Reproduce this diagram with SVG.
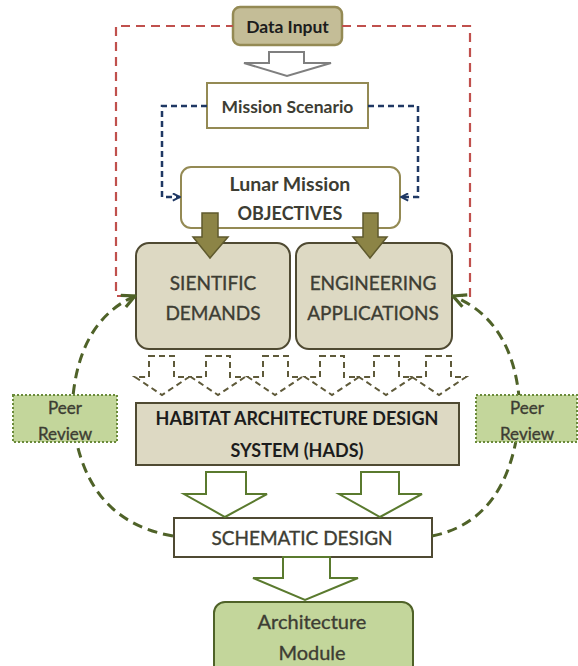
<svg xmlns="http://www.w3.org/2000/svg" width="578" height="666" viewBox="0 0 578 666">
<defs>
<style>
.t{font-family:Lato,"Open Sans","Liberation Sans",sans-serif;text-anchor:middle;dominant-baseline:central}
.dark{fill:#3d3d33;stroke:#3d3d33;stroke-width:0.35}
.blk{fill:#1c1c1c}
.tan{fill:#ddd9c3;stroke:#4f4a32;stroke-width:2}
.red{fill:none;stroke:#c0504d;stroke-width:2.2;stroke-dasharray:9,6}
.blue{fill:none;stroke:#1f3864;stroke-width:2.5;stroke-dasharray:6,4}
.green{fill:none;stroke:#4f6228;stroke-width:3;stroke-dasharray:10,6}
.dhol{fill:none;stroke:#5f5a3a;stroke-width:2;stroke-dasharray:6,4}
.ghol{fill:#fff;stroke:#5a7a2e;stroke-width:2}
.olive{fill:#8c8446;stroke:#5f5a2e;stroke-width:1.5}
.peer{fill:#c3d69b;stroke:#6a8a3a;stroke-width:2;stroke-dasharray:2,2}
</style>
<marker id="bh" viewBox="0 0 10 10" refX="9" refY="5" markerWidth="9" markerHeight="9" orient="auto" markerUnits="userSpaceOnUse">
<path d="M1,1 L9,5 L1,9" fill="none" stroke="#1f3864" stroke-width="2.2"/>
</marker>
<marker id="gh" viewBox="0 0 10 10" refX="9" refY="5" markerWidth="16" markerHeight="16" orient="auto" markerUnits="userSpaceOnUse">
<path d="M1,1 L9,5 L1,9" fill="none" stroke="#4f6228" stroke-width="2"/>
</marker>
</defs>
<rect width="578" height="666" fill="#fff"/>

<g id="data-input">
<rect x="233" y="7" width="109" height="38" rx="7" fill="#c4bd97" stroke="#948a54" stroke-width="2.5"/>
<text class="t blk" x="287.5" y="26" font-size="17.5" font-weight="bold">Data Input</text>
</g>
<g id="mission-scenario">
<rect x="207" y="83" width="161" height="45" fill="#fff" stroke="#948a54" stroke-width="2"/>
<text class="t dark" x="287.5" y="106" font-size="17.5" font-weight="bold" style="stroke-width:0">Mission Scenario</text>
</g>
<g id="lunar-mission">
<rect x="181" y="167" width="219" height="61" rx="10" fill="#fff" stroke="#948a54" stroke-width="2"/>
<text class="t dark" x="290" y="183" font-size="19.5" font-weight="bold" style="stroke-width:0">Lunar Mission</text>
<text class="t dark" x="290" y="213" font-size="18" font-weight="bold" style="stroke-width:0">OBJECTIVES</text>
</g>
<g id="scientific-demands">
<rect class="tan" x="136" y="243" width="154" height="106" rx="13"/>
<text class="t dark" x="213" y="282" font-size="19">SIENTIFIC</text>
<text class="t dark" x="213" y="312" font-size="19">DEMANDS</text>
</g>
<g id="engineering-applications">
<rect class="tan" x="296" y="243" width="156" height="106" rx="13"/>
<text class="t dark" x="373" y="282" font-size="19">ENGINEERING</text>
<text class="t dark" x="373" y="312" font-size="19">APPLICATIONS</text>
</g>
<g id="hads">
<rect class="tan" x="136" y="403" width="323" height="62"/>
<text class="t blk" x="297" y="418" font-size="18" font-weight="bold">HABITAT ARCHITECTURE DESIGN</text>
<text class="t blk" x="297" y="450" font-size="18" font-weight="bold">SYSTEM (HADS)</text>
</g>
<g id="schematic-design">
<rect x="174" y="518" width="258" height="39" fill="#fff" stroke="#4f4a32" stroke-width="2"/>
<text class="t dark" x="302" y="537" font-size="19">SCHEMATIC DESIGN</text>
</g>
<g id="architecture-module">
<rect x="214" y="602" width="199" height="80" rx="11" fill="#c3d69b" stroke="#4f6228" stroke-width="2"/>
<text class="t dark" x="312" y="621" font-size="20">Architecture</text>
<text class="t dark" x="312" y="652" font-size="20">Module</text>
</g>

<g id="connectors">
<path class="red" d="M126,296 L116,296 L116,26 L233,26"/>
<path class="red" d="M342,26 L470,26 L470,296 L462,296"/>
<path class="blue" d="M207,106 L162,106 L162,197 L180,197" marker-end="url(#bh)"/>
<path class="blue" d="M368,106 L418,106 L418,197 L401,197" marker-end="url(#bh)"/>
<path class="green" d="M173,536 Q80,520 72,410 Q76,322 135,296" marker-end="url(#gh)"/>
<path class="green" d="M432,536 Q512,520 520,410 Q516,322 453,296" marker-end="url(#gh)"/>
<path d="M269,52 L304,52 L304,63 L331,63 L287,76 L244,63 L269,63 Z" fill="#fff" stroke="#7f7f7f" stroke-width="2"/>
<path class="olive" d="M202,213 L218,213 L218,237 L228,237 L210,258 L193,237 L202,237 Z"/>
<path class="olive" d="M363,213 L378,213 L378,237 L387,237 L370,258 L353,237 L363,237 Z"/>
<g class="dhol">
<path d="M149,356 L174,356 L174,377 L189,377 L162,395 L135,377 L149,377 Z"/>
<path d="M206,356 L230,356 L230,377 L245,377 L218,395 L191,377 L206,377 Z"/>
<path d="M263,356 L288,356 L288,377 L302,377 L275,395 L248,377 L263,377 Z"/>
<path d="M320,356 L344,356 L344,377 L359,377 L332,395 L305,377 L320,377 Z"/>
<path d="M374,356 L399,356 L399,377 L413,377 L386,395 L359,377 L374,377 Z"/>
<path d="M426,356 L451,356 L451,377 L466,377 L439,395 L412,377 L426,377 Z"/>
</g>
<path class="ghol" d="M206,472 L246,472 L246,494 L267,494 L225,517 L184,494 L206,494 Z"/>
<path class="ghol" d="M361,472 L399,472 L399,494 L422,494 L380,517 L339,494 L361,494 Z"/>
<path class="ghol" d="M283,557 L330,557 L330,578 L358,578 L305,600 L253,578 L283,578 Z"/>
</g>

<g id="peer-review-left">
<rect class="peer" x="13" y="395" width="104" height="47"/>
<text class="t dark" x="65" y="407" font-size="17">Peer</text>
<text class="t dark" x="65" y="433" font-size="17">Review</text>
</g>
<g id="peer-review-right">
<rect class="peer" x="476" y="395" width="101" height="47"/>
<text class="t dark" x="527" y="407" font-size="17">Peer</text>
<text class="t dark" x="527" y="433" font-size="17">Review</text>
</g>
</svg>
